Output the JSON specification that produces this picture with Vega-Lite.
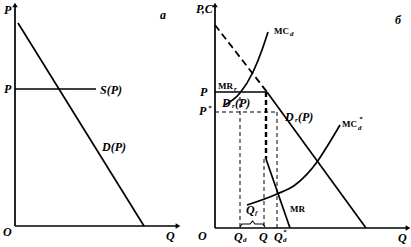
{
  "$schema": "https://vega.github.io/schema/vega-lite/v6.json",
  "autosize": {"type": "fit", "contains": "padding"},
  "width": 411,
  "height": 247,
  "padding": 0,
  "background": "white",
  "config": {"view": {"stroke": null}},
  "datasets": {
    "solid": [
      {"id": "a_yaxis", "x": 15, "y": 21}, {"id": "a_yaxis", "x": 15, "y": 240},
      {"id": "a_xaxis", "x": 15, "y": 21}, {"id": "a_xaxis", "x": 176, "y": 21},
      {"id": "a_D", "x": 18, "y": 224}, {"id": "a_D", "x": 144, "y": 21},
      {"id": "a_S", "x": 15, "y": 158}, {"id": "a_S", "x": 96, "y": 158},
      {"id": "b_yaxis", "x": 215, "y": 19}, {"id": "b_yaxis", "x": 215, "y": 240},
      {"id": "b_xaxis", "x": 215, "y": 19}, {"id": "b_xaxis", "x": 406, "y": 19},
      {"id": "b_D", "x": 267, "y": 155}, {"id": "b_D", "x": 366, "y": 19},
      {"id": "b_P", "x": 215, "y": 155}, {"id": "b_P", "x": 267, "y": 155},
      {"id": "b_MR", "x": 266, "y": 88}, {"id": "b_MR", "x": 290, "y": 19}
    ],
    "brace": [
      {"x": 240, "y": 20}, {"x": 242, "y": 23}, {"x": 250, "y": 23}, {"x": 252.5, "y": 26},
      {"x": 255, "y": 23}, {"x": 263, "y": 23}, {"x": 265, "y": 20}
    ],
    "demandDash": [
      {"x": 215, "y": 222}, {"x": 267, "y": 155}
    ],
    "guides": [
      {"id": "Pstar", "x": 215, "y": 135}, {"id": "Pstar", "x": 278, "y": 135},
      {"id": "Qd", "x": 240, "y": 150}, {"id": "Qd", "x": 240, "y": 19},
      {"id": "Q", "x": 264, "y": 88}, {"id": "Q", "x": 264, "y": 19},
      {"id": "Qds", "x": 277, "y": 135}, {"id": "Qds", "x": 277, "y": 19}
    ],
    "thickGuide": [
      {"x": 266, "y": 155}, {"x": 266, "y": 88}
    ],
    "curves": [
      {"id": "MCd", "x": 225, "y": 142}, {"id": "MCd", "x": 240, "y": 154},
      {"id": "MCd", "x": 253, "y": 175}, {"id": "MCd", "x": 262, "y": 197},
      {"id": "MCd", "x": 268, "y": 215},
      {"id": "MCds", "x": 247, "y": 42}, {"id": "MCds", "x": 277, "y": 53},
      {"id": "MCds", "x": 295, "y": 62}, {"id": "MCds", "x": 317, "y": 85},
      {"id": "MCds", "x": 328, "y": 102}, {"id": "MCds", "x": 340, "y": 122}
    ],
    "arrows": [
      {"dir": "up", "x": 15, "y": 242}, {"dir": "up", "x": 215, "y": 242},
      {"dir": "right", "x": 178, "y": 21}, {"dir": "right", "x": 408, "y": 19}
    ],
    "labels": [
      {"grp": "it", "t": "P", "x": 4, "y": 237},
      {"grp": "it", "t": "P", "x": 4, "y": 158},
      {"grp": "it", "t": "S(P)", "x": 100, "y": 157},
      {"grp": "it", "t": "D(P)", "x": 102, "y": 100},
      {"grp": "it", "t": "O", "x": 3, "y": 15},
      {"grp": "it", "t": "Q", "x": 166, "y": 11},
      {"grp": "it", "t": "a", "x": 160, "y": 232},
      {"grp": "it", "t": "P,C", "x": 196, "y": 238},
      {"grp": "it", "t": "б", "x": 395, "y": 227},
      {"grp": "it", "t": "P", "x": 200, "y": 155},
      {"grp": "it", "t": "P", "x": 199, "y": 136},
      {"grp": "it", "t": "D", "x": 222, "y": 144},
      {"grp": "it", "t": "(P)", "x": 235, "y": 144},
      {"grp": "it", "t": "D", "x": 285, "y": 130},
      {"grp": "it", "t": "(P)", "x": 298, "y": 130},
      {"grp": "it", "t": "Q", "x": 246, "y": 37},
      {"grp": "it", "t": "O", "x": 198, "y": 11},
      {"grp": "it", "t": "Q", "x": 234, "y": 10},
      {"grp": "it", "t": "Q", "x": 259, "y": 10},
      {"grp": "it", "t": "Q", "x": 274, "y": 10},
      {"grp": "it", "t": "Q", "x": 398, "y": 9},
      {"grp": "rm", "t": "MC", "x": 274, "y": 216},
      {"grp": "rm", "t": "MR", "x": 218, "y": 161},
      {"grp": "rm", "t": "MC", "x": 342, "y": 123},
      {"grp": "rm", "t": "MR", "x": 290, "y": 38},
      {"grp": "sub", "t": "d", "x": 290, "y": 213},
      {"grp": "sub", "t": "r", "x": 234, "y": 158},
      {"grp": "sub", "t": "r", "x": 232, "y": 141},
      {"grp": "sub", "t": "r", "x": 295, "y": 127},
      {"grp": "sub", "t": "f", "x": 255, "y": 34},
      {"grp": "sub", "t": "d", "x": 243, "y": 7},
      {"grp": "sub", "t": "d", "x": 283, "y": 7},
      {"grp": "sub", "t": "d", "x": 358, "y": 119},
      {"grp": "sub", "t": "*", "x": 359, "y": 128},
      {"grp": "sub", "t": "*", "x": 208, "y": 139},
      {"grp": "sub", "t": "*", "x": 283, "y": 15}
    ]
  },
  "encoding": {
    "x": {"field": "x", "type": "quantitative", "axis": null, "scale": {"domain": [0, 411], "nice": false, "zero": false}},
    "y": {"field": "y", "type": "quantitative", "axis": null, "scale": {"domain": [0, 247], "nice": false, "zero": false}}
  },
  "layer": [
    {
      "data": {"name": "solid"},
      "mark": {"type": "line", "color": "black", "strokeWidth": 1.7},
      "encoding": {"detail": {"field": "id"}}
    },
    {
      "data": {"name": "brace"},
      "mark": {"type": "line", "color": "black", "strokeWidth": 1.1, "interpolate": "linear"},
      "encoding": {}
    },
    {
      "data": {"name": "demandDash"},
      "mark": {"type": "line", "color": "black", "strokeWidth": 1.8, "strokeDash": [7, 4]},
      "encoding": {}
    },
    {
      "data": {"name": "guides"},
      "mark": {"type": "line", "color": "black", "strokeWidth": 1, "strokeDash": [4, 3]},
      "encoding": {"detail": {"field": "id"}}
    },
    {
      "data": {"name": "thickGuide"},
      "mark": {"type": "line", "color": "black", "strokeWidth": 2.4, "strokeDash": [5, 3]},
      "encoding": {}
    },
    {
      "data": {"name": "curves"},
      "mark": {"type": "line", "color": "black", "strokeWidth": 1.7, "interpolate": "monotone"},
      "encoding": {"detail": {"field": "id"}}
    },
    {
      "data": {"name": "arrows"},
      "transform": [{"filter": "datum.dir === 'up'"}],
      "mark": {"type": "point", "shape": "triangle-up", "filled": true, "color": "black", "size": 30, "opacity": 1},
      "encoding": {}
    },
    {
      "data": {"name": "arrows"},
      "transform": [{"filter": "datum.dir === 'right'"}],
      "mark": {"type": "point", "shape": "triangle-right", "filled": true, "color": "black", "size": 30, "opacity": 1},
      "encoding": {}
    },
    {
      "data": {"name": "labels"},
      "transform": [{"filter": "datum.grp === 'it'"}],
      "mark": {"type": "text", "align": "left", "baseline": "middle", "font": "Liberation Serif", "fontSize": 12, "fontStyle": "italic", "fontWeight": "bold", "color": "black"},
      "encoding": {"text": {"field": "t"}}
    },
    {
      "data": {"name": "labels"},
      "transform": [{"filter": "datum.grp === 'rm'"}],
      "mark": {"type": "text", "align": "left", "baseline": "middle", "font": "Liberation Serif", "fontSize": 9, "fontWeight": "bold", "color": "black"},
      "encoding": {"text": {"field": "t"}}
    },
    {
      "data": {"name": "labels"},
      "transform": [{"filter": "datum.grp === 'sub'"}],
      "mark": {"type": "text", "align": "left", "baseline": "middle", "font": "Liberation Serif", "fontSize": 7, "fontStyle": "italic", "fontWeight": "bold", "color": "black"},
      "encoding": {"text": {"field": "t"}}
    }
  ]
}
